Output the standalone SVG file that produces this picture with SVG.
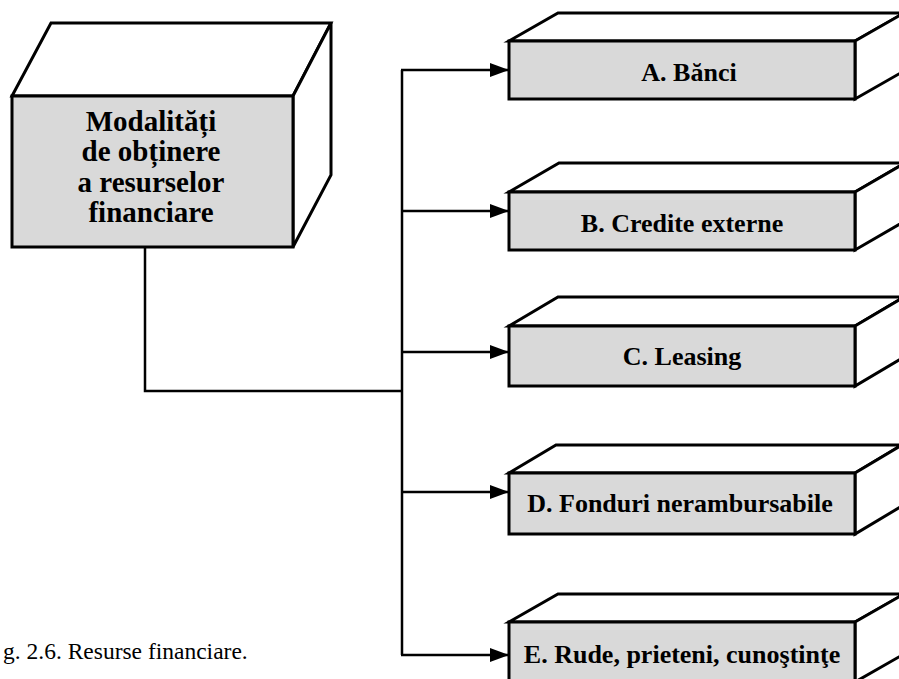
<svg xmlns="http://www.w3.org/2000/svg" width="899" height="679" viewBox="0 0 899 679">
<style>
.face{fill:#ffffff;stroke:#000;stroke-width:3;stroke-linejoin:miter}
.front{fill:#d9d9d9;stroke:#000;stroke-width:3}
.lbl{font-family:"Liberation Serif","Times New Roman",serif;font-weight:bold;fill:#000;text-anchor:middle}
.conn{fill:none;stroke:#000;stroke-width:2.5}
.cap{font-family:"Liberation Serif","Times New Roman",serif;font-size:23.5px;fill:#000}
</style>
<defs>
<marker id="ah" markerUnits="userSpaceOnUse" markerWidth="20" markerHeight="16" refX="19" refY="7" orient="auto">
<path d="M0,0 L19,7 L0,14 Z" fill="#000"/>
</marker>
</defs>
<rect width="899" height="679" fill="#fff"/>

<g id="connectors">
<polyline class="conn" points="145,247 145,391 402,391"/>
<line class="conn" x1="402" y1="70" x2="402" y2="655"/>
<line class="conn" x1="401" y1="70" x2="509" y2="70" marker-end="url(#ah)"/>
<line class="conn" x1="401" y1="211" x2="509" y2="211" marker-end="url(#ah)"/>
<line class="conn" x1="401" y1="352" x2="509" y2="352" marker-end="url(#ah)"/>
<line class="conn" x1="401" y1="492" x2="509" y2="492" marker-end="url(#ah)"/>
<line class="conn" x1="401" y1="655" x2="509" y2="655" marker-end="url(#ah)"/>
</g>

<g id="main">
<polygon class="face" points="12,96 51,23 331,23 293,96"/>
<polygon class="face" points="293,96 331,23 331,175 293,247"/>
<rect class="front" x="12" y="96" width="281" height="151"/>
<text class="lbl" font-size="29" x="151" y="131">Modalități</text>
<text class="lbl" font-size="29" x="151" y="161">de obținere</text>
<text class="lbl" font-size="29" x="151" y="192">a resurselor</text>
<text class="lbl" font-size="29" x="151" y="222">financiare</text>
</g>

<g id="nodeA">
<polygon class="face" points="509,41 558,13 904,13 855,41"/>
<polygon class="face" points="855,41 904,13 904,71 855,99"/>
<rect class="front" x="509" y="41" width="346" height="58"/>
<text class="lbl" font-size="26" x="689" y="81">A. Bănci</text>
</g>

<g id="nodeB">
<polygon class="face" points="509,192 559,163 905,163 855,192"/>
<polygon class="face" points="855,192 905,163 905,221 855,250"/>
<rect class="front" x="509" y="192" width="346" height="58"/>
<text class="lbl" font-size="26" x="682" y="232">B. Credite externe</text>
</g>

<g id="nodeC">
<polygon class="face" points="509,326 558,297 904,297 855,326"/>
<polygon class="face" points="855,326 904,297 904,357 855,386"/>
<rect class="front" x="509" y="326" width="346" height="60"/>
<text class="lbl" font-size="26" x="682" y="365">C. Leasing</text>
</g>

<g id="nodeD">
<polygon class="face" points="509,473 556,445 902,445 855,473"/>
<polygon class="face" points="855,473 902,445 902,506 855,534"/>
<rect class="front" x="509" y="473" width="346" height="61"/>
<text class="lbl" font-size="26" x="680" y="512">D. Fonduri nerambursabile</text>
</g>

<g id="nodeE">
<polygon class="face" points="509,622 558,594 904,594 855,622"/>
<polygon class="face" points="855,622 904,594 904,654 855,682"/>
<rect class="front" x="509" y="622" width="346" height="60"/>
<text class="lbl" font-size="26" x="682" y="663">E. Rude, prieteni, cunoştinţe</text>
</g>

<text class="cap" x="3" y="659">g. 2.6. Resurse financiare.</text>
</svg>
